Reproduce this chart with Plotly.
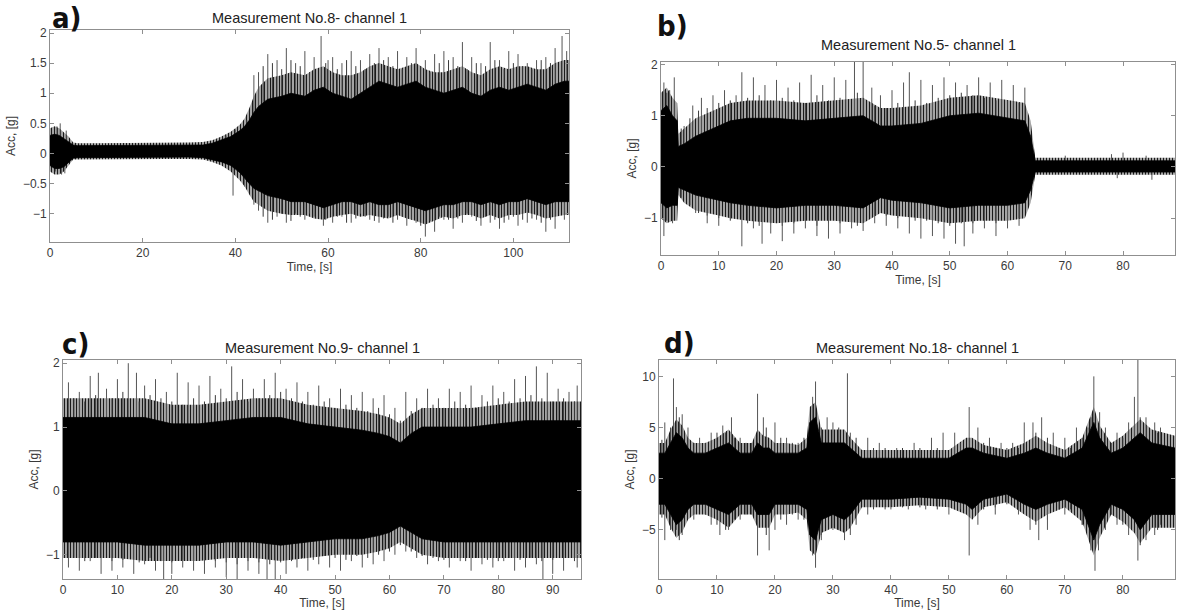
import plotly.graph_objects as go

W, H = 1177, 610

# ---------------- Panel a : Measurement No.8 ----------------
a_t = [0, 1, 2, 3, 4, 5, 6, 10, 15, 20, 25, 30, 33, 35, 37, 39, 40, 41, 42, 43, 44, 45, 47, 50, 52,
       55, 57, 59, 61, 63, 65, 67, 69, 71, 73, 75, 77, 79, 81, 83, 85, 87, 89, 91, 93, 95, 97, 99,
       101, 103, 105, 107, 109, 111, 112]
a_core_hi = [0.30, 0.32, 0.30, 0.25, 0.20, 0.14, 0.13, 0.13, 0.13, 0.13, 0.13, 0.13, 0.14, 0.17, 0.22,
             0.28, 0.33, 0.38, 0.45, 0.55, 0.68, 0.78, 0.90, 0.95, 1.00, 0.95, 1.05, 1.10, 1.00, 0.95,
             0.90, 1.00, 1.10, 1.20, 1.15, 1.10, 1.15, 1.20, 1.10, 1.05, 1.00, 1.05, 1.10, 1.00, 0.95,
             1.05, 1.10, 1.05, 1.10, 1.15, 1.10, 1.05, 1.15, 1.20, 1.20]
a_core_lo = [-0.20, -0.25, -0.25, -0.22, -0.15, -0.08, -0.07, -0.06, -0.06, -0.06, -0.06, -0.06, -0.07,
             -0.10, -0.14, -0.20, -0.26, -0.32, -0.40, -0.50, -0.58, -0.62, -0.70, -0.75, -0.80, -0.80,
             -0.85, -0.90, -0.85, -0.80, -0.80, -0.85, -0.80, -0.85, -0.85, -0.80, -0.85, -0.90, -0.95,
             -0.90, -0.85, -0.85, -0.80, -0.80, -0.85, -0.80, -0.85, -0.80, -0.80, -0.75, -0.80, -0.85,
             -0.80, -0.80, -0.80]
a_fr_hi = [0.42, 0.45, 0.42, 0.35, 0.28, 0.18, 0.17, 0.17, 0.17, 0.17, 0.18, 0.18, 0.19, 0.22, 0.28,
           0.36, 0.42, 0.48, 0.58, 0.75, 0.95, 1.10, 1.25, 1.30, 1.35, 1.30, 1.40, 1.45, 1.35, 1.30,
           1.30, 1.35, 1.45, 1.50, 1.45, 1.40, 1.45, 1.50, 1.40, 1.35, 1.35, 1.40, 1.45, 1.35, 1.30,
           1.40, 1.45, 1.40, 1.45, 1.45, 1.40, 1.40, 1.50, 1.55, 1.55]
a_fr_lo = [-0.30, -0.35, -0.35, -0.30, -0.20, -0.10, -0.09, -0.09, -0.09, -0.09, -0.09, -0.09, -0.10,
           -0.14, -0.20, -0.30, -0.38, -0.45, -0.55, -0.68, -0.80, -0.85, -0.95, -1.00, -1.02, -1.02,
           -1.08, -1.10, -1.05, -1.02, -1.00, -1.05, -1.02, -1.05, -1.08, -1.02, -1.08, -1.12, -1.18,
           -1.12, -1.05, -1.08, -1.02, -1.02, -1.08, -1.02, -1.08, -1.02, -1.02, -0.98, -1.02, -1.08,
           -1.05, -1.02, -1.02]
a_su_t = [1.5, 2.2, 3.5, 38, 40, 42.5, 44, 45, 47, 49, 51, 53, 55, 57, 58.5, 60, 61, 63, 65, 67, 69, 71,
          73, 75, 77, 79, 81, 83, 85, 87, 89, 91, 93, 95, 97, 99, 101, 103, 105, 107, 109, 110.5, 111.5]
a_su_v = [0.45, 0.50, 0.38, 0.30, 0.40, 0.55, 1.30, 1.35, 1.65, 1.55, 1.75, 1.50, 1.70, 1.60, 1.95, 1.55,
          1.60, 1.50, 1.70, 1.55, 1.65, 1.75, 1.60, 1.70, 1.60, 1.75, 1.55, 1.65, 1.70, 1.60, 1.85,
          1.60, 1.50, 1.85, 1.55, 1.70, 1.65, 1.50, 1.55, 1.60, 1.75, 1.95, 1.70]
a_sd_t = [1.2, 2.5, 3.2, 39.5, 42, 44, 45, 47, 49, 51, 53, 55, 57, 59, 61, 63, 65, 67, 69, 71, 73, 75,
          77, 79, 81, 83, 85, 87, 89, 91, 93, 95, 97, 99, 101, 103, 105, 107, 109, 111]
a_sd_v = [-0.30, -0.35, -0.33, -0.70, -0.55, -0.85, -0.95, -1.15, -1.05, -1.15, -1.00, -1.10, -1.05,
          -1.20, -1.15, -1.05, -1.15, -1.00, -1.10, -1.15, -1.05, -1.10, -1.20, -1.15, -1.38, -1.30,
          -1.10, -1.25, -1.15, -1.05, -1.20, -1.15, -1.25, -1.10, -1.20, -1.15, -1.10, -1.30, -1.25, -1.10]
a_m_t = [46, 48, 50, 52, 54, 56, 59.5, 62, 64, 66, 68, 70, 72, 74, 76, 78, 80, 82, 84, 86, 88, 90, 92,
         94, 96, 98, 100, 102, 104, 106, 108]
a_mu_v = [1.45, 1.50, 1.40, 1.55, 1.45, 1.35, 1.50, 1.40, 1.55, 1.45, 1.40, 1.50, 1.55, 1.45, 1.40, 1.50,
          1.45, 1.35, 1.50, 1.55, 1.45, 1.40, 1.50, 1.45, 1.55, 1.40, 1.50, 1.45, 1.40, 1.55, 1.50]
a_md_v = [-1.05, -1.10, -1.00, -1.12, -1.05, -1.00, -1.10, -1.05, -1.15, -1.08, -1.05, -1.12, -1.08,
          -1.15, -1.05, -1.10, -1.20, -1.12, -1.05, -1.10, -1.08, -1.00, -1.12, -1.05, -1.10, -1.15,
          -1.05, -1.10, -1.08, -1.15, -1.10]

# ---------------- Panel b : Measurement No.5 ----------------
b_t = [0, 1, 2, 2.8, 3.0, 4, 6, 8, 10, 12, 15, 20, 25, 30, 35, 38, 40, 45, 50, 55, 60, 63, 64, 64.8,
       65.2, 70, 75, 80, 85, 89]
b_core_hi = [1.10, 1.20, 1.00, 0.90, 0.40, 0.45, 0.60, 0.70, 0.80, 0.90, 0.95, 0.95, 0.90, 0.95, 1.00,
             0.80, 0.80, 0.85, 1.00, 1.05, 0.95, 0.90, 0.60, 0.12, 0.12, 0.12, 0.12, 0.13, 0.13, 0.12]
b_core_lo = [-0.70, -0.80, -0.75, -0.75, -0.40, -0.45, -0.55, -0.60, -0.65, -0.70, -0.75, -0.80, -0.75,
             -0.75, -0.80, -0.60, -0.65, -0.70, -0.80, -0.75, -0.75, -0.70, -0.45, -0.10, -0.10, -0.10,
             -0.10, -0.10, -0.10, -0.10]
b_fr_hi = [1.45, 1.55, 1.35, 1.25, 0.65, 0.75, 0.95, 1.05, 1.15, 1.25, 1.30, 1.30, 1.25, 1.30, 1.35,
           1.15, 1.15, 1.20, 1.35, 1.40, 1.30, 1.25, 0.90, 0.18, 0.18, 0.18, 0.18, 0.19, 0.19, 0.18]
b_fr_lo = [-1.00, -1.10, -1.05, -1.05, -0.55, -0.70, -0.85, -0.90, -0.95, -1.00, -1.05, -1.10, -1.05,
           -1.05, -1.10, -0.90, -0.95, -1.00, -1.10, -1.05, -1.05, -1.00, -0.70, -0.15, -0.15, -0.15,
           -0.15, -0.15, -0.15, -0.15]
b_su_t = [0.5, 1.5, 2.3, 4, 5.5, 7, 9, 11, 13, 14, 16, 18, 20, 22, 24, 26, 28, 30, 32, 33.5, 35, 36.5,
          38, 40, 42, 43, 45, 47, 49, 51, 53, 55, 57, 59, 61, 63, 70, 78, 80, 84]
b_su_v = [1.65, 1.50, 1.75, 0.80, 1.20, 1.35, 1.40, 1.50, 1.40, 1.85, 1.75, 1.60, 1.70, 1.55, 1.65, 1.80,
          1.60, 1.75, 1.70, 2.10, 2.10, 1.55, 1.40, 1.50, 1.65, 1.85, 1.70, 1.60, 1.75, 1.65, 1.60,
          1.75, 1.65, 1.70, 1.60, 1.55, 0.22, 0.25, 0.28, 0.22]
b_sd_t = [0.5, 2, 3.5, 6, 8, 10, 12, 14, 16, 17.5, 19, 21, 23, 25, 27, 29, 31, 33, 35, 37, 39, 41, 43,
          45, 47, 49, 51, 52.5, 54, 56, 58, 60, 62, 79, 85]
b_sd_v = [-1.35, -1.10, -0.60, -0.90, -1.10, -1.15, -1.00, -1.55, -1.20, -1.50, -1.30, -1.45, -1.30,
          -1.20, -1.35, -1.40, -1.30, -1.20, -1.25, -1.10, -1.15, -1.20, -1.30, -1.40, -1.35, -1.40,
          -1.50, -1.55, -1.30, -1.20, -1.35, -1.20, -1.15, -0.22, -0.25]
b_m_t = [1, 3.5, 5, 6.5, 8, 10, 12, 15, 17, 19, 21, 23, 25, 27, 29, 31, 34, 37, 39, 41, 44, 46, 48, 50,
         52, 54, 56, 58, 60, 62]
b_mu_v = [1.45, 0.75, 0.95, 1.10, 1.15, 1.25, 1.30, 1.35, 1.40, 1.30, 1.35, 1.30, 1.25, 1.40, 1.30, 1.35,
          1.45, 1.20, 1.15, 1.25, 1.30, 1.25, 1.35, 1.40, 1.45, 1.40, 1.35, 1.30, 1.30, 1.25]
b_md_v = [-1.05, -0.60, -0.75, -0.90, -0.95, -1.00, -1.05, -1.10, -1.15, -1.10, -1.15, -1.10, -1.05,
          -1.15, -1.10, -1.10, -1.15, -0.95, -0.95, -1.00, -1.05, -1.05, -1.10, -1.15, -1.10, -1.10,
          -1.05, -1.10, -1.05, -1.00]

# ---------------- Panel c : Measurement No.9 ----------------
c_t = [0, 5, 10, 15, 20, 25, 30, 35, 40, 45, 50, 55, 58, 60, 62, 64, 66, 70, 75, 80, 85, 90, 95.2]
c_core_hi = [1.15, 1.15, 1.15, 1.15, 1.05, 1.05, 1.10, 1.15, 1.15, 1.05, 1.00, 0.95, 0.90, 0.85, 0.75,
             0.90, 1.00, 1.00, 1.00, 1.05, 1.10, 1.10, 1.10]
c_core_lo = [-0.80, -0.80, -0.80, -0.85, -0.85, -0.85, -0.80, -0.80, -0.85, -0.80, -0.75, -0.75, -0.70,
             -0.65, -0.55, -0.65, -0.75, -0.80, -0.80, -0.80, -0.80, -0.80, -0.80]
c_fr_hi = [1.45, 1.45, 1.45, 1.45, 1.35, 1.35, 1.40, 1.45, 1.45, 1.35, 1.30, 1.25, 1.20, 1.15, 1.05,
           1.20, 1.30, 1.30, 1.30, 1.35, 1.40, 1.40, 1.40]
c_fr_lo = [-1.05, -1.05, -1.05, -1.10, -1.10, -1.10, -1.05, -1.05, -1.10, -1.05, -1.00, -1.00, -0.95,
           -0.90, -0.80, -0.90, -1.00, -1.05, -1.05, -1.05, -1.05, -1.05, -1.05]
c_su_t = [1, 3, 5, 6.5, 8, 10, 12, 13.5, 15, 17, 19, 21, 23, 25, 27, 29, 31, 33, 35, 37, 39, 41, 43, 45,
          47, 49, 51, 53, 55, 57, 59, 61, 63, 65, 67, 69, 71, 73, 75, 77, 79, 81, 83, 85, 87, 89, 91,
          93, 94.5]
c_su_v = [1.70, 1.55, 1.80, 1.85, 1.60, 1.75, 2.00, 1.85, 1.65, 1.75, 1.55, 1.85, 1.70, 1.65, 1.80, 1.60,
          1.95, 1.75, 1.60, 1.75, 1.85, 1.60, 1.70, 1.55, 1.65, 1.45, 1.60, 1.50, 1.55, 1.45, 1.50,
          1.30, 1.55, 1.45, 1.60, 1.45, 1.60, 1.55, 1.65, 1.50, 1.65, 1.55, 1.75, 1.80, 1.95, 1.85,
          1.60, 1.55, 1.65]
c_sd_t = [1, 3, 5, 7, 9, 11, 13, 15, 17, 18.5, 20, 22, 24, 26, 28, 30, 32, 34, 36, 37.5, 39, 41, 43, 45,
          47, 49, 51, 53, 55, 57, 59, 61, 63, 65, 67, 69, 71, 73, 75, 77, 79, 81, 83, 85, 87, 88.2, 90,
          92, 94.5]
c_sd_v = [-1.20, -1.25, -1.10, -1.30, -1.25, -1.20, -1.30, -1.15, -1.25, -1.45, -1.30, -1.20, -1.25,
          -1.30, -1.20, -1.35, -1.45, -1.25, -1.30, -1.45, -1.40, -1.30, -1.20, -1.25, -1.15, -1.20,
          -1.25, -1.10, -1.20, -1.15, -1.10, -1.00, -0.95, -1.05, -1.15, -1.10, -1.20, -1.10, -1.25,
          -1.15, -1.20, -1.10, -1.25, -1.20, -1.15, -1.60, -1.30, -1.25, -1.20]
c_m_t = [2, 4, 6, 9, 11, 14, 16, 18, 20, 22, 24, 26, 28, 30, 32, 34, 36, 38, 40, 42, 44, 46, 48, 50, 52,
         54, 56, 58, 60, 62, 64, 66, 68, 70, 72, 74, 76, 78, 80, 82, 84, 86, 88, 90, 92, 94]
c_mu_v = [1.45, 1.40, 1.50, 1.45, 1.55, 1.40, 1.50, 1.45, 1.40, 1.35, 1.45, 1.40, 1.50, 1.45, 1.55, 1.40,
          1.45, 1.50, 1.55, 1.45, 1.40, 1.35, 1.40, 1.30, 1.35, 1.30, 1.25, 1.30, 1.20, 1.10, 1.25,
          1.30, 1.35, 1.30, 1.40, 1.35, 1.30, 1.40, 1.45, 1.40, 1.45, 1.50, 1.45, 1.40, 1.45, 1.40]
c_md_v = [-1.05, -1.10, -1.05, -1.10, -1.08, -1.12, -1.05, -1.10, -1.12, -1.08, -1.10, -1.15, -1.10,
          -1.12, -1.15, -1.10, -1.12, -1.15, -1.12, -1.10, -1.05, -1.08, -1.02, -1.05, -1.08, -1.02,
          -1.05, -1.00, -0.95, -0.85, -0.95, -1.02, -1.05, -1.08, -1.05, -1.10, -1.05, -1.08, -1.10,
          -1.05, -1.08, -1.05, -1.10, -1.08, -1.05, -1.10]

# ---------------- Panel d : Measurement No.18 ----------------
d_t = [0, 1, 2, 3, 4, 5, 6, 8, 10, 12, 14, 16, 17, 18, 19, 20, 22, 24, 25.5, 26, 27, 28, 30, 32, 33,
       35, 40, 45, 50, 53, 54, 56, 60, 63, 65, 67, 70, 73, 75, 76, 78, 80, 82, 83, 85, 89]
d_core_hi = [2.5, 2.5, 3.5, 4.5, 4.0, 3.0, 2.5, 2.5, 3.0, 3.5, 2.5, 2.5, 3.5, 3.0, 3.0, 2.5, 2.5, 2.5,
             3.0, 5.5, 6.0, 3.5, 3.5, 3.5, 3.0, 2.0, 2.0, 2.0, 2.0, 3.0, 3.0, 2.5, 2.0, 2.5, 3.0, 2.5,
             2.0, 3.0, 5.5, 4.0, 2.5, 3.0, 4.0, 4.5, 3.5, 3.0]
d_core_lo = [-2.5, -2.5, -3.5, -4.5, -4.0, -3.0, -2.5, -2.5, -3.0, -3.5, -2.5, -2.5, -3.5, -3.5, -3.5,
             -2.5, -2.5, -2.5, -3.0, -5.5, -6.0, -4.0, -3.5, -4.0, -3.5, -2.0, -2.0, -1.8, -2.0, -2.5,
             -3.0, -2.0, -1.5, -2.5, -3.0, -2.5, -2.0, -3.0, -6.0, -4.5, -2.5, -3.0, -4.0, -5.0, -3.5, -3.5]
d_fr_hi = [3.5, 3.5, 4.8, 5.8, 5.2, 4.0, 3.5, 3.5, 4.0, 4.8, 3.5, 3.5, 4.8, 4.2, 4.0, 3.5, 3.5, 3.3, 4.0,
           7.0, 7.5, 4.8, 4.8, 4.8, 4.0, 2.8, 2.8, 2.8, 2.8, 4.0, 4.0, 3.3, 2.8, 3.5, 4.2, 3.5, 2.8,
           4.0, 7.0, 5.2, 3.5, 4.2, 5.3, 5.8, 4.8, 4.2]
d_fr_lo = [-3.5, -3.5, -4.8, -5.8, -5.2, -4.0, -3.5, -3.5, -4.0, -4.8, -3.5, -3.5, -4.8, -4.8, -4.8,
           -3.5, -3.5, -3.3, -4.0, -7.0, -7.5, -5.3, -4.8, -5.3, -4.8, -2.8, -2.8, -2.6, -2.8, -3.5,
           -4.0, -2.8, -2.3, -3.5, -4.2, -3.5, -2.8, -4.2, -7.5, -5.8, -3.5, -4.2, -5.3, -6.3, -4.8, -4.8]
d_su_t = [1, 2.5, 3, 4, 5, 7, 9, 11, 12.5, 14, 17, 18, 20, 22, 24, 26.5, 27, 29, 30, 32.5, 33, 36, 38,
          41, 44, 47, 49, 51, 53.5, 55, 57, 59, 61, 63, 64.5, 66, 68, 70, 72, 74, 75, 76, 77, 79, 81,
          82, 82.6, 84, 85.5, 86.5]
d_su_v = [5.5, 9.8, 7.0, 6.3, 5.0, 4.0, 4.5, 5.2, 6.0, 4.0, 8.3, 6.0, 5.5, 4.0, 3.5, 8.0, 9.5, 6.0, 5.5,
          10.3, 4.5, 4.0, 3.5, 3.0, 3.5, 4.0, 4.5, 4.5, 7.0, 5.0, 4.0, 3.5, 3.5, 5.5, 5.5, 6.0, 4.5,
          4.0, 5.0, 5.0, 10.0, 6.5, 5.0, 4.5, 5.5, 8.0, 12.0, 6.0, 5.5, 5.0]
d_sd_t = [1, 3, 4, 6, 9, 10.5, 12, 14, 17, 19, 20, 22, 24, 26.5, 27, 28, 30, 32, 33, 36, 40, 43, 46, 50,
          53.5, 55, 58, 62, 64, 65.5, 67, 70, 73, 75.2, 75.8, 77, 79, 81, 82.6, 84, 85.5, 86.5]
d_sd_v = [-6.0, -5.0, -5.5, -4.0, -4.5, -5.5, -5.0, -4.0, -7.5, -7.0, -5.0, -4.5, -4.0, -7.5, -8.7, -6.0,
          -5.0, -6.0, -5.5, -3.5, -3.0, -3.0, -3.0, -3.5, -7.5, -4.5, -3.5, -3.5, -5.0, -6.0, -5.0,
          -3.5, -4.5, -9.0, -7.0, -5.0, -4.5, -5.5, -8.0, -6.0, -5.5, -4.5]
d_m_t = [0.5, 2, 3.5, 6, 8, 10, 11.5, 13, 15, 16, 18.5, 21, 23, 25, 28, 31, 34, 37, 39, 42, 45, 48, 52,
         56, 58, 60, 62, 65, 67, 69, 71, 73, 74.5, 78, 80, 83, 86]
d_mu_v = [3.8, 5.0, 6.0, 3.5, 3.5, 4.5, 4.5, 4.0, 3.5, 3.5, 5.0, 4.0, 3.5, 4.0, 5.0, 5.0, 4.0, 3.0, 3.0,
          3.0, 3.0, 3.0, 3.5, 3.5, 3.0, 3.0, 3.0, 4.5, 4.0, 3.0, 3.0, 4.0, 6.0, 3.5, 4.0, 6.0, 4.5]
d_md_v = [-3.8, -5.0, -6.0, -3.5, -3.5, -4.5, -5.0, -4.0, -3.5, -3.5, -5.5, -4.0, -3.5, -4.0, -5.5, -5.0,
          -4.5, -3.0, -3.0, -2.8, -2.8, -3.0, -3.0, -3.0, -2.8, -2.5, -3.0, -4.5, -4.0, -3.0, -3.0,
          -4.5, -7.0, -3.5, -4.5, -6.5, -5.0]

titles = ["Measurement No.8- channel 1", "Measurement No.5- channel 1",
          "Measurement No.9- channel 1", "Measurement No.18- channel 1"]
letters = ["a)", "b)", "c)", "d)"]
x_ranges = [[0, 112], [0, 89], [0, 95.2], [0, 89]]
y_ranges = [[-1.47, 2.05], [-1.72, 2.05], [-1.38, 2.05], [-9.8, 11.6]]
x_dticks = [20, 10, 10, 10]
y_dticks = [0.5, 1, 1, 5]

# pixel boxes (left, right, top, bottom)
boxes = [(50, 569, 30, 242), (661, 1175, 62, 255), (63, 581, 360, 579), (659, 1175, 360, 579)]
title_y = [18, 45, 348, 348]
letter_pos = [(50, 18), (655, 26), (60, 344), (662, 343)]

panels = [
    (a_t, a_core_hi, a_core_lo, a_fr_hi, a_fr_lo, a_su_t, a_su_v, a_sd_t, a_sd_v, a_m_t, a_mu_v, a_md_v),
    (b_t, b_core_hi, b_core_lo, b_fr_hi, b_fr_lo, b_su_t, b_su_v, b_sd_t, b_sd_v, b_m_t, b_mu_v, b_md_v),
    (c_t, c_core_hi, c_core_lo, c_fr_hi, c_fr_lo, c_su_t, c_su_v, c_sd_t, c_sd_v, c_m_t, c_mu_v, c_md_v),
    (d_t, d_core_hi, d_core_lo, d_fr_hi, d_fr_lo, d_su_t, d_su_v, d_sd_t, d_sd_v, d_m_t, d_mu_v, d_md_v),
]


def spike_xy(ts, vs):
    sx, sy = [], []
    for tt, vv in zip(ts, vs):
        sx += [tt, tt, None]
        sy += [0, vv, None]
    return sx, sy


fig = go.Figure()
for i, (t, chi, clo, fhi, flo, sut, suv, sdt, sdv, mt, muv, mdv) in enumerate(panels):
    xa = "x" if i == 0 else f"x{i+1}"
    ya = "y" if i == 0 else f"y{i+1}"
    # grey fringe band, striped like dense vertical trace lines
    fig.add_trace(go.Scatter(x=t + t[::-1], y=fhi + flo[::-1], fill="toself", mode="lines",
                             fillcolor="#8c8c8c",
                             fillpattern=dict(shape="|", size=3, solidity=0.6, fgcolor="#1a1a1a"),
                             line=dict(color="rgba(0,0,0,0)", width=0),
                             hoverinfo="skip", showlegend=False, xaxis=xa, yaxis=ya))
    # minor spikes
    mx, my = spike_xy(mt + mt, muv + mdv)
    fig.add_trace(go.Scatter(x=mx, y=my, mode="lines", line=dict(color="#3a3a3a", width=1),
                             hoverinfo="skip", showlegend=False, xaxis=xa, yaxis=ya))
    # tall spikes
    sx, sy = spike_xy(sut + sdt, suv + sdv)
    fig.add_trace(go.Scatter(x=sx, y=sy, mode="lines", line=dict(color="#555555", width=1),
                             hoverinfo="skip", showlegend=False, xaxis=xa, yaxis=ya))
    # black dense core
    fig.add_trace(go.Scatter(x=t + t[::-1], y=chi + clo[::-1], fill="toself", mode="lines",
                             fillcolor="#000000", line=dict(color="#000000", width=0.8),
                             hoverinfo="skip", showlegend=False, xaxis=xa, yaxis=ya))

axis_common = dict(showline=True, linecolor="#8f8f8f", linewidth=1, mirror="ticks", ticks="inside",
                   ticklen=4, tickcolor="#8f8f8f", showgrid=False, zeroline=False, automargin=False,
                   tickfont=dict(family="Liberation Sans, Arial, sans-serif", size=12, color="#3a3a3a"))
title_font = dict(family="Liberation Sans, Arial, sans-serif", size=12, color="#3a3a3a")

layout = dict(width=W, height=H, margin=dict(l=0, r=0, t=0, b=0), paper_bgcolor="white",
              plot_bgcolor="white", showlegend=False, template="none")
annotations = []
for i in range(4):
    L, R, T, B = boxes[i]
    xk = "xaxis" if i == 0 else f"xaxis{i+1}"
    yk = "yaxis" if i == 0 else f"yaxis{i+1}"
    xa = "x" if i == 0 else f"x{i+1}"
    ya = "y" if i == 0 else f"y{i+1}"
    layout[xk] = dict(axis_common, domain=[L / W, R / W], range=x_ranges[i], dtick=x_dticks[i],
                      tick0=0, anchor=ya, title=dict(text="Time, [s]", font=title_font, standoff=2))
    layout[yk] = dict(axis_common, domain=[1 - B / H, 1 - T / H], range=y_ranges[i], dtick=y_dticks[i],
                      tick0=0, anchor=xa, title=dict(text="Acc, [g]", font=title_font, standoff=4))
    annotations.append(dict(text=titles[i], x=(L + R) / 2 / W, y=1 - title_y[i] / H, xref="paper",
                            yref="paper", xanchor="center", yanchor="middle", showarrow=False,
                            font=dict(family="Liberation Sans, Arial, sans-serif", size=14.5, color="#222")))
    lx, ly = letter_pos[i]
    annotations.append(dict(text="<b>" + letters[i] + "</b>", x=lx / W, y=1 - ly / H, xref="paper",
                            yref="paper", xanchor="left", yanchor="middle", showarrow=False,
                            font=dict(family="DejaVu Sans Condensed, Liberation Sans Narrow, DejaVu Sans",
                                      size=29, color="#111")))
layout["annotations"] = annotations
fig.update_layout(**layout)

fig.write_html("out.html", config={"displayModeBar": False},
               post_script="document.body.style.margin='0px';")
